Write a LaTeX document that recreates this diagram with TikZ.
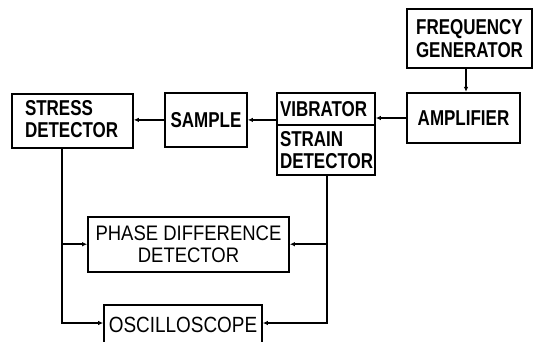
\documentclass[tikz,border=0pt]{standalone}
\usepackage{fontspec}
\setmainfont{Liberation Sans}
\newfontfamily\upfont{Liberation Sans}[FakeStretch=0.79]
\newfontfamily\lowfont{Liberation Sans}[FakeStretch=0.88]
\newfontfamily\oscfont{Liberation Sans}[FakeStretch=0.86]
\usetikzlibrary{arrows.meta}
\begin{document}
\begin{tikzpicture}[x=1pt,y=-1pt,
  box/.style={draw, line width=1.7pt, inner sep=0pt, align=center},
  upper/.style={font=\upfont\bfseries\fontsize{21.5}{22.5}\selectfont},
  lower/.style={font=\lowfont\fontsize{21}{21.5}\selectfont},
  conn/.style={line width=1.7pt, -{Latex[length=5pt,width=4.5pt]}}]
\clip (0,0) rectangle (534,341);
\fill[white] (0,0) rectangle (534,341);
\node[box,upper,minimum width=125pt,minimum height=59pt] (fg) at (469.5,38.5) {FREQUENCY\\GENERATOR};
\node[box,upper,minimum width=113pt,minimum height=50.6pt] (amp) at (463.5,118) {AMPLIFIER};
\node[box,upper,minimum width=98pt,minimum height=32.3pt,text width=92pt,align=left] (vib) at (326,108.9) {VIBRATOR};
\node[box,upper,minimum width=98pt,minimum height=50pt,text width=92pt,align=left] (strain) at (326,150) {STRAIN\\DETECTOR};
\node[box,upper,minimum width=82pt,minimum height=53.7pt] (sample) at (206,119.9) {SAMPLE};
\node[box,upper,minimum width=121.3pt,minimum height=53.4pt,text width=94.6pt,align=left] (stress) at (72.3,121) {STRESS\\DETECTOR\rule[-4pt]{0pt}{4pt}};
\node[box,lower,minimum width=201pt,minimum height=55pt] (phase) at (188.5,244.2) {PHASE DIFFERENCE\\DETECTOR};
\node[box,font=\oscfont\fontsize{22}{22}\selectfont,minimum width=158pt,minimum height=40pt] (osc) at (183,325) {OSCILLOSCOPE};
\coordinate (c1) at (466,0);
\coordinate (c2) at (62,0);
\coordinate (c3) at (0,323);
\coordinate (c4) at (327,0);
\draw[conn] (fg.south -| c1) -- (amp.north -| c1);
\draw[conn] (amp.west) -- (amp.west -| vib.east);
\draw[conn] (vib.west |- sample.east) -- (sample.east);
\draw[conn] (sample.west) -- (sample.west -| stress.east);
\draw[conn] (stress.south -| c2) |- (phase.west);
\draw[conn] (stress.south -| c2) |- (osc.west |- c3);
\draw[conn] (strain.south -| c4) |- (phase.east);
\draw[conn] (strain.south -| c4) |- (osc.east |- c3);
\end{tikzpicture}
\end{document}
